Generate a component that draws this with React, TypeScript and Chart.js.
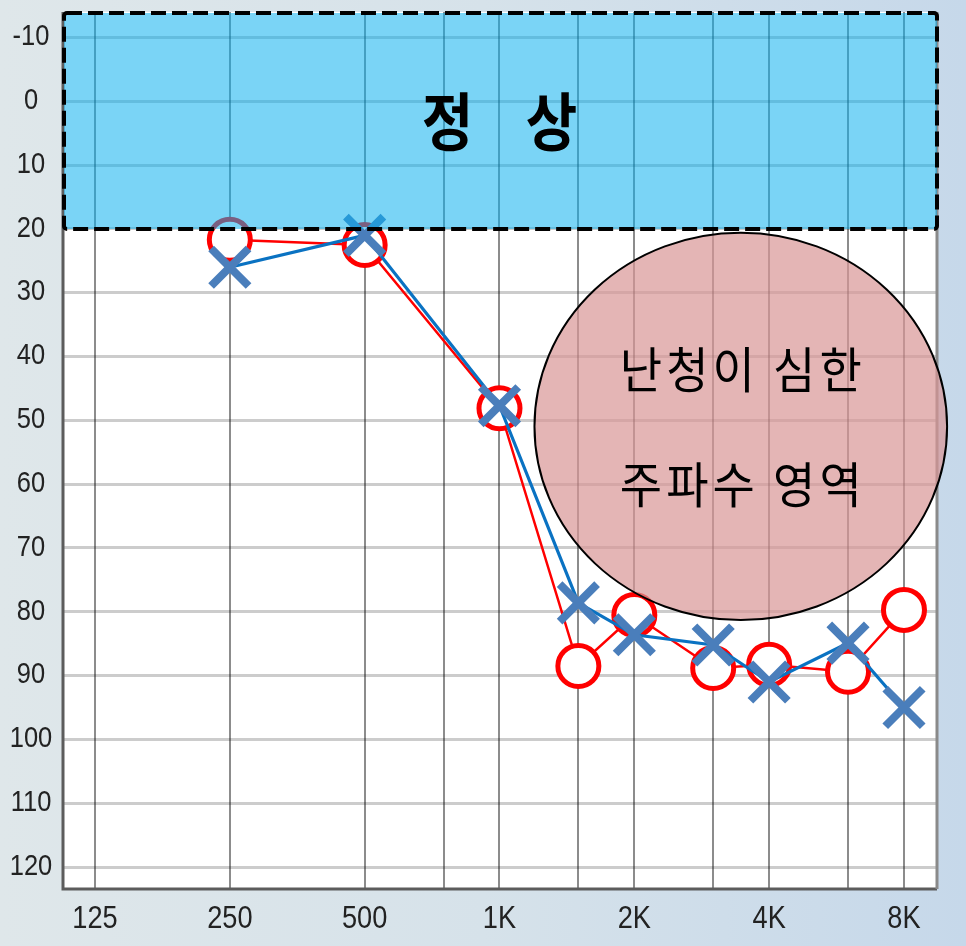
import React, { useEffect, useRef } from "react";
import { Chart, registerables } from "chart.js";

Chart.register(...registerables);

// ---- data ----
const FREQS = [250, 500, 1000, 1500, 2000, 3000, 4000, 6000, 8000];
const RIGHT_EAR = [21.7, 22.5, 48.1, 88.5, 80.5, 88.8, 88.3, 89.4, 79.7];
const LEFT_EAR = [26, 21, 47.7, 78.6, 83.6, 85.2, 91, 84.9, 95];

const GRID_FREQS = [125, 250, 500, 750, 1000, 1500, 2000, 3000, 4000, 6000, 8000];
const LABELED_FREQS = [125, 250, 500, 1000, 2000, 4000, 8000];
const X_TICK_LABELS = ["125", "250", "500", "1K", "2K", "4K", "8K"];
const Y_TICKS = [-10, 0, 10, 20, 30, 40, 50, 60, 70, 80, 90, 100, 110, 120];

const X_MIN = 105.5;
const X_MAX = 9480;
const Y_MIN = -14;
const Y_MAX = 123.6;

const NORMAL_LIMIT = 20; // dB – upper "정상" band
const NORMAL_TEXT = ["정", "상"];
const ZONE_FREQ = [1197, 9985]; // highlighted ellipse extent (Hz)
const ZONE_DB = [20.6, 81.3]; // highlighted ellipse extent (dB)
const ZONE_TEXT = ["난청이 심한", "주파수 영역"];

const LABEL_FONT = '"Liberation Sans", Arial, sans-serif';
const KR_FONT = '"Noto Sans CJK KR", sans-serif';

function stretchedText(
  ctx: CanvasRenderingContext2D,
  text: string,
  x: number,
  y: number,
  font: string,
  sx: number,
  sy: number,
  color = "#000",
  spacing = 0,
  baseline: CanvasTextBaseline = "middle"
) {
  ctx.save();
  ctx.translate(x, y);
  ctx.scale(sx, sy);
  ctx.font = font;
  (ctx as any).letterSpacing = spacing + "px";
  ctx.fillStyle = color;
  ctx.textAlign = "center";
  ctx.textBaseline = baseline;
  ctx.fillText(text, spacing / 2, 0);
  ctx.restore();
}

const overlayPlugin = {
  id: "overlay",
  beforeDraw(chart: any) {
    const { ctx, chartArea: a } = chart;
    ctx.save();
    ctx.fillStyle = "#ffffff";
    ctx.fillRect(a.left, a.top, a.right - a.left, a.bottom - a.top);
    ctx.restore();
  },
  beforeDatasetsDraw(chart: any) {
    const { ctx, chartArea: a } = chart;
    ctx.save();
    ctx.strokeStyle = "#5c5c5c";
    ctx.lineWidth = 3;
    ctx.beginPath();
    ctx.moveTo(a.left + 1, a.top);
    ctx.lineTo(a.left + 1, a.bottom - 1);
    ctx.lineTo(a.right, a.bottom - 1);
    ctx.stroke();
    ctx.strokeStyle = "#8a8a8a";
    ctx.beginPath();
    ctx.moveTo(a.right, a.top);
    ctx.lineTo(a.right, a.bottom - 1);
    ctx.stroke();
    ctx.restore();
  },
  afterDatasetsDraw(chart: any) {
    const { ctx, chartArea: a, scales } = chart;
    const xs = scales.x;
    const ys = scales.y;
    // normal band
    const bTop = a.top + 1;
    const bBottom = ys.getPixelForValue(NORMAL_LIMIT);
    const bLeft = a.left + 2;
    const bRight = a.right;
    ctx.save();
    ctx.fillStyle = "rgba(9,176,239,0.54)";
    ctx.fillRect(bLeft, bTop, bRight - bLeft, bBottom - bTop);
    ctx.setLineDash([15, 6]);
    ctx.lineWidth = 4;
    ctx.strokeStyle = "#000";
    ctx.beginPath();
    if ((ctx as any).roundRect) (ctx as any).roundRect(bLeft, bTop, bRight - bLeft, bBottom - bTop, 3);
    else ctx.rect(bLeft, bTop, bRight - bLeft, bBottom - bTop);
    ctx.stroke();
    ctx.restore();
    const bcx = (a.left + a.right) / 2;
    const bcy = (bTop + bBottom) / 2;
    stretchedText(ctx, NORMAL_TEXT[0], bcx - 52, bcy, `bold 56px ${KR_FONT}`, 1, 1.12);
    stretchedText(ctx, NORMAL_TEXT[1], bcx + 52, bcy, `bold 56px ${KR_FONT}`, 1, 1.12);

    // ellipse zone
    const l = xs.getPixelForValue(ZONE_FREQ[0]);
    const r = xs.getPixelForValue(ZONE_FREQ[1]);
    const t = ys.getPixelForValue(ZONE_DB[0]);
    const b = ys.getPixelForValue(ZONE_DB[1]);
    const cx = (l + r) / 2;
    const cy = (t + b) / 2;
    ctx.save();
    ctx.beginPath();
    ctx.ellipse(cx, cy, (r - l) / 2, (b - t) / 2, 0, 0, Math.PI * 2);
    ctx.fillStyle = "rgba(216,150,150,0.70)";
    ctx.fill();
    ctx.lineWidth = 2;
    ctx.strokeStyle = "#000";
    ctx.stroke();
    ctx.restore();
    stretchedText(ctx, ZONE_TEXT[0], cx, cy - 57, `46px ${KR_FONT}`, 1, 1.06, "#000", 4);
    stretchedText(ctx, ZONE_TEXT[1], cx, cy + 58, `46px ${KR_FONT}`, 1, 1.06, "#000", 4);
  },
  afterDraw(chart: any) {
    // axis labels (narrow, taller look) drawn from the scales' own ticks
    const { ctx, scales } = chart;
    const xs = scales.x;
    const ys = scales.y;
    ys.ticks.forEach((tk: any, i: number) => {
      if (!tk.label) return;
      const y = ys.getPixelForTick(i) - 3 + 0.358 * 30;
      stretchedText(ctx, String(tk.label), 31, y, `30px ${LABEL_FONT}`, 0.85, 1, "#222222", 0, "alphabetic");
    });
    xs.ticks.forEach((tk: any, i: number) => {
      if (!tk.label) return;
      const x = xs.getPixelForTick(i);
      const y = xs.top + 26.5 + 0.358 * 32;
      stretchedText(ctx, String(tk.label), x, y, `32px ${LABEL_FONT}`, 0.85, 1, "#222222", 0, "alphabetic");
    });
  },
};

export default function App() {
  const ref = useRef<HTMLCanvasElement>(null);
  useEffect(() => {
    if (!ref.current) return;
    const chart = new Chart(ref.current, {
      type: "line",
      data: {
        datasets: [
          {
            label: "Left",
            data: FREQS.map((f, i) => ({ x: f, y: LEFT_EAR[i] })),
            borderColor: "#0a72c2",
            borderWidth: 3.2,
            pointStyle: "crossRot",
            pointRadius: 26.5,
            pointHoverRadius: 26.5,
            pointBorderColor: "#4a7ebb",
            pointBorderWidth: 8,
            pointBackgroundColor: "#4a7ebb",
            tension: 0,
            clip: false,
          } as any,
          {
            label: "Right",
            data: FREQS.map((f, i) => ({ x: f, y: RIGHT_EAR[i] })),
            borderColor: "#ff0000",
            borderWidth: 2.5,
            pointStyle: "circle",
            pointRadius: 20.5,
            pointHoverRadius: 20.5,
            pointBorderColor: "#ff0000",
            pointBorderWidth: 5,
            pointBackgroundColor: "#ffffff",
            tension: 0,
            clip: false,
          } as any,
        ],
      },
      options: {
        animation: false,
        responsive: false,
        events: [],
        layout: { autoPadding: false, padding: { top: 12, right: 29, left: 0, bottom: 0 } },
        plugins: { legend: { display: false }, tooltip: { enabled: false } },
        scales: {
          x: {
            type: "logarithmic",
            min: X_MIN,
            max: X_MAX,
            afterBuildTicks: (s: any) => {
              s.ticks = GRID_FREQS.map((v) => ({ value: v }));
            },
            afterFit: (s: any) => {
              s.height = 56;
              s.paddingLeft = 0;
              s.paddingRight = 0;
            },
            ticks: {
              autoSkip: false,
              maxRotation: 0,
              minRotation: 0,
              padding: 8,
              color: "rgba(0,0,0,0)",
              font: { family: LABEL_FONT, size: 32 },
              callback: (v: any) => {
                const i = LABELED_FREQS.indexOf(Number(v));
                return i >= 0 ? X_TICK_LABELS[i] : "";
              },
            },
            grid: { color: "rgba(0,0,0,0.45)", lineWidth: 2, drawTicks: false },
            border: { display: false },
          },
          y: {
            type: "linear",
            reverse: true,
            min: Y_MIN,
            max: Y_MAX,
            afterBuildTicks: (s: any) => {
              s.ticks = Y_TICKS.map((v) => ({ value: v }));
            },
            afterFit: (s: any) => {
              s.width = 62;
              s.paddingTop = 0;
              s.paddingBottom = 0;
            },
            ticks: {
              crossAlign: "center",
              padding: 10,
              color: "rgba(0,0,0,0)",
              font: { family: LABEL_FONT, size: 30 },
              callback: (v: any) => String(v),
            },
            grid: { color: "rgba(0,0,0,0.2)", lineWidth: 3, drawTicks: false },
            border: { display: false },
          },
        },
      },
      plugins: [overlayPlugin],
    } as any);
    return () => chart.destroy();
  }, []);
  return (
    <div
      style={{
        position: "fixed",
        left: 0,
        top: 0,
        width: 966,
        height: 946,
        background: "linear-gradient(to right, #dfe7ea 0%, #d6e2ea 50%, #c6d8ea 100%)",
      }}
    >
      <canvas ref={ref} width={966} height={946} style={{ display: "block" }} />
    </div>
  );
}
